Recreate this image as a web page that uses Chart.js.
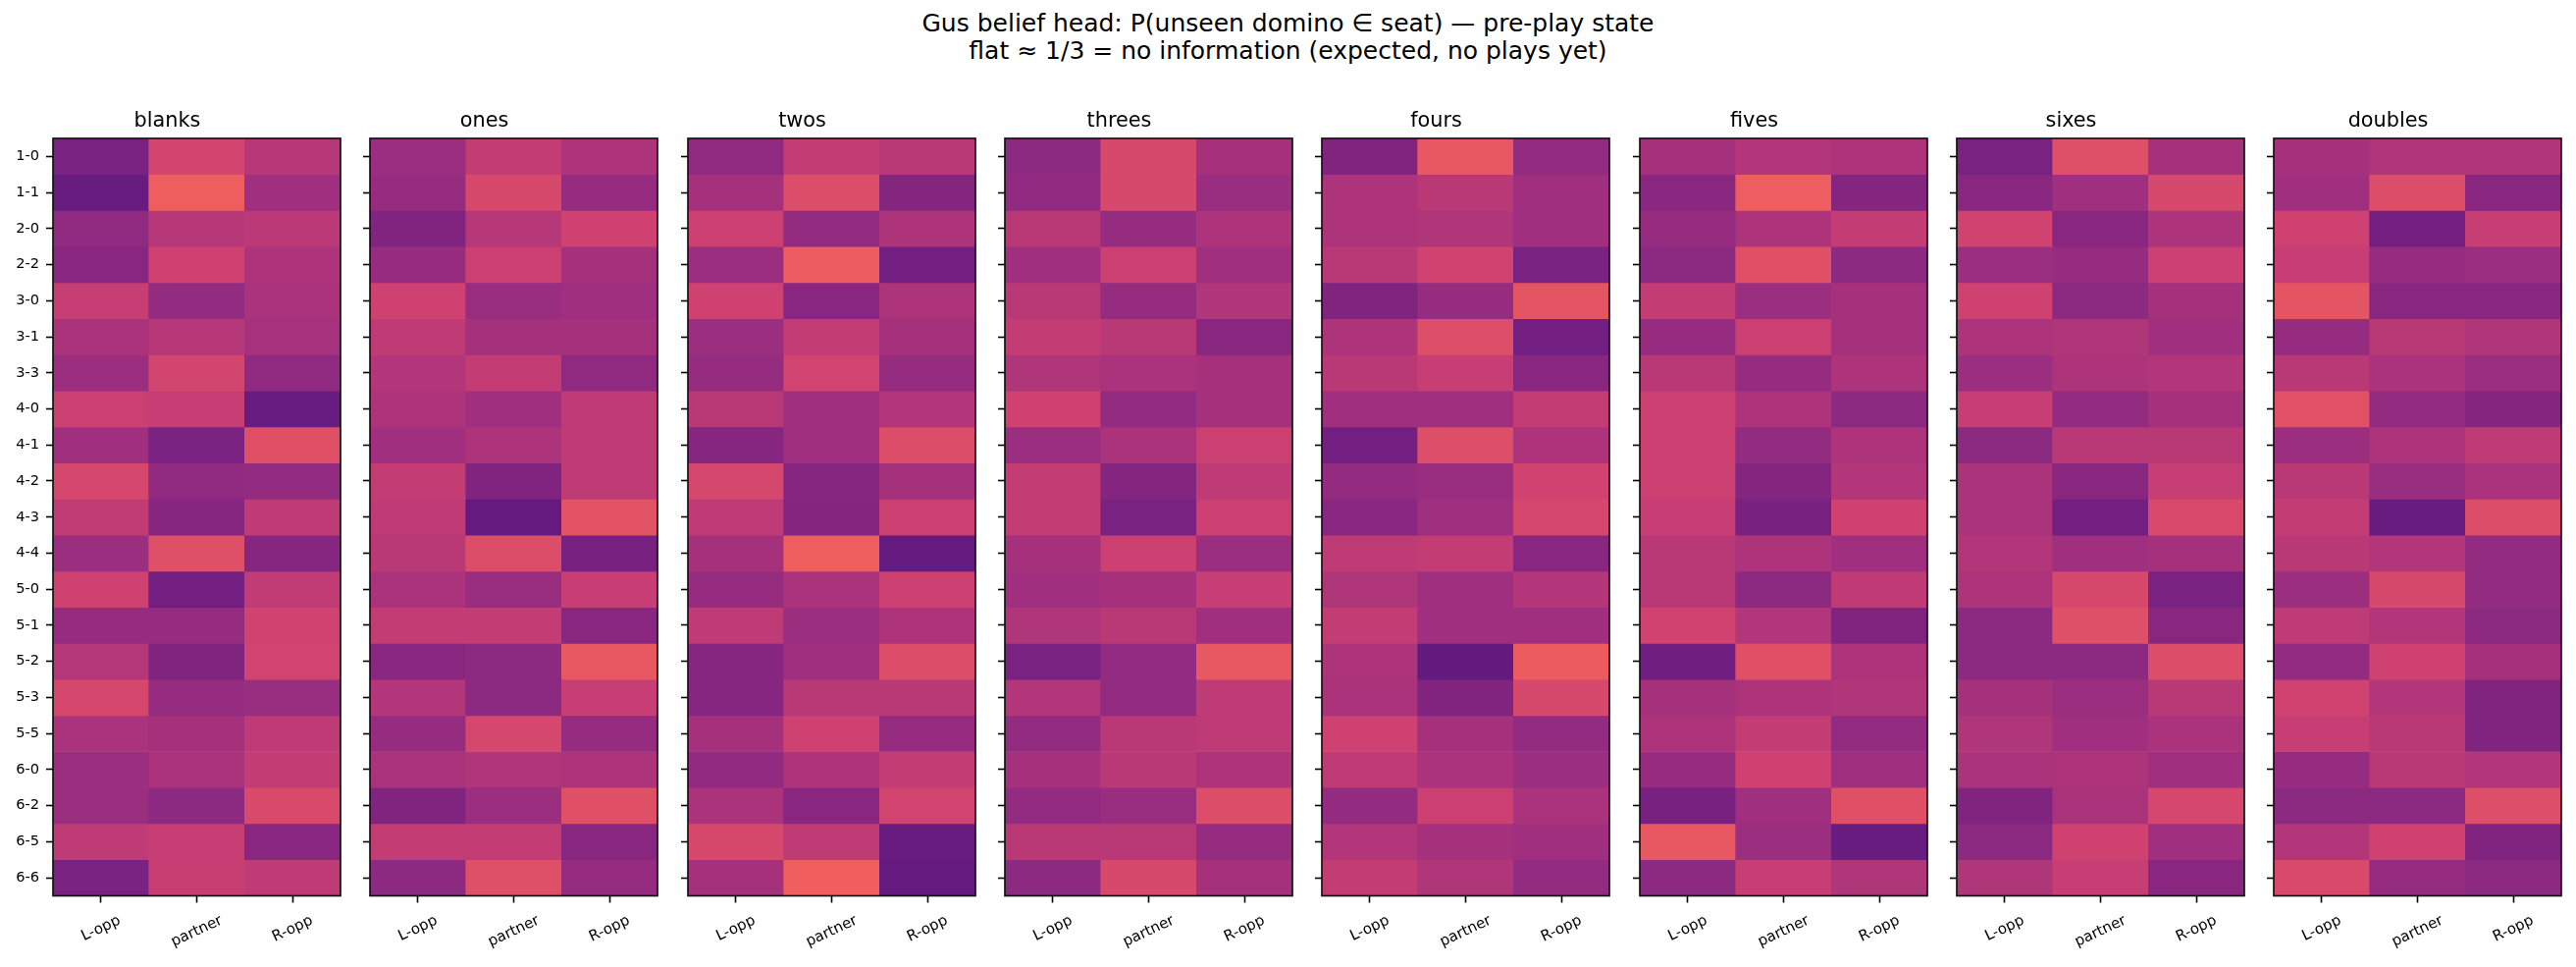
<!DOCTYPE html>
<html>
<head>
<meta charset="utf-8">
<script src="https://cdn.jsdelivr.net/npm/chart.js@4.4.1/dist/chart.umd.min.js"></script>
<style>
  body { margin: 0; background: #fff; width: 2625px; height: 985px; position: relative; overflow: hidden; font-family: "DejaVu Sans", sans-serif; }
  #suptitle { position: absolute; left: 0; top: 10px; width: 2625px; text-align: center; font-size: 25px; line-height: 28px; color: #000; }
  canvas { position: absolute; top: 100px; }
</style>
</head>
<body>
<div id="suptitle">Gus belief head: P(unseen domino ∈ seat) — pre-play state<br>flat ≈ 1/3 = no information (expected, no plays yet)</div>
<script>
const ROWS = ['1-0', '1-1', '2-0', '2-2', '3-0', '3-1', '3-3', '4-0', '4-1', '4-2', '4-3', '4-4',
  '5-0', '5-1', '5-2', '5-3', '5-5', '6-0', '6-2', '6-5', '6-6'];
const SEATS = ['L-opp', 'partner', 'R-opp'];
const TITLES = ['blanks', 'ones', 'twos', 'threes', 'fours', 'fives', 'sixes', 'doubles'];

// P(domino in seat), one row per domino: [L-opp, partner, R-opp]
const BLANKS = [
  [0.288, 0.343, 0.325], [0.278, 0.365, 0.312], [0.302, 0.325, 0.328], [0.298, 0.340, 0.320],
  [0.335, 0.304, 0.318], [0.318, 0.325, 0.316], [0.310, 0.343, 0.302], [0.338, 0.335, 0.278],
  [0.312, 0.288, 0.353], [0.345, 0.302, 0.304], [0.332, 0.296, 0.330], [0.310, 0.352, 0.296],
  [0.340, 0.284, 0.332], [0.306, 0.306, 0.341], [0.324, 0.292, 0.342], [0.345, 0.306, 0.308],
  [0.318, 0.315, 0.330], [0.310, 0.318, 0.333], [0.310, 0.300, 0.348], [0.330, 0.335, 0.298],
  [0.288, 0.336, 0.330]
];
const ONES = [
  [0.310, 0.333, 0.320], [0.306, 0.346, 0.306], [0.292, 0.325, 0.340], [0.306, 0.338, 0.315],
  [0.340, 0.308, 0.312], [0.330, 0.315, 0.315], [0.323, 0.333, 0.302], [0.320, 0.312, 0.330],
  [0.312, 0.320, 0.330], [0.333, 0.292, 0.330], [0.330, 0.275, 0.355], [0.327, 0.350, 0.287],
  [0.318, 0.308, 0.335], [0.333, 0.333, 0.298], [0.298, 0.300, 0.360], [0.323, 0.300, 0.335],
  [0.306, 0.345, 0.306], [0.318, 0.322, 0.320], [0.292, 0.310, 0.353], [0.333, 0.333, 0.298],
  [0.300, 0.352, 0.306]
];
const TWOS = [
  [0.302, 0.333, 0.327], [0.315, 0.350, 0.295], [0.338, 0.304, 0.320], [0.310, 0.363, 0.284],
  [0.340, 0.298, 0.320], [0.310, 0.333, 0.315], [0.306, 0.342, 0.306], [0.327, 0.312, 0.323],
  [0.296, 0.312, 0.350], [0.345, 0.296, 0.315], [0.330, 0.295, 0.338], [0.315, 0.365, 0.275],
  [0.306, 0.318, 0.338], [0.330, 0.310, 0.320], [0.296, 0.312, 0.350], [0.296, 0.327, 0.327],
  [0.315, 0.340, 0.306], [0.303, 0.320, 0.333], [0.318, 0.298, 0.342], [0.346, 0.330, 0.278],
  [0.315, 0.366, 0.275]
];
const THREES = [
  [0.300, 0.346, 0.315], [0.303, 0.346, 0.308], [0.327, 0.306, 0.320], [0.312, 0.338, 0.312],
  [0.327, 0.306, 0.322], [0.333, 0.327, 0.298], [0.322, 0.318, 0.315], [0.340, 0.304, 0.315],
  [0.310, 0.318, 0.338], [0.333, 0.295, 0.330], [0.333, 0.288, 0.338], [0.315, 0.338, 0.310],
  [0.312, 0.315, 0.335], [0.322, 0.327, 0.312], [0.288, 0.304, 0.360], [0.323, 0.304, 0.330],
  [0.304, 0.327, 0.330], [0.315, 0.327, 0.320], [0.304, 0.308, 0.350], [0.327, 0.327, 0.306],
  [0.300, 0.346, 0.315]
];
const FOURS = [
  [0.292, 0.360, 0.304], [0.320, 0.327, 0.312], [0.320, 0.322, 0.312], [0.327, 0.341, 0.288],
  [0.292, 0.306, 0.357], [0.320, 0.351, 0.284], [0.327, 0.335, 0.298], [0.312, 0.312, 0.333],
  [0.284, 0.351, 0.320], [0.304, 0.308, 0.341], [0.298, 0.312, 0.345], [0.330, 0.333, 0.298],
  [0.322, 0.312, 0.323], [0.333, 0.312, 0.312], [0.320, 0.274, 0.362], [0.318, 0.292, 0.346],
  [0.340, 0.315, 0.304], [0.330, 0.318, 0.310], [0.304, 0.338, 0.318], [0.323, 0.315, 0.312],
  [0.333, 0.322, 0.304]
];
const FIVES = [
  [0.315, 0.323, 0.320], [0.298, 0.364, 0.295], [0.306, 0.320, 0.333], [0.300, 0.353, 0.300],
  [0.333, 0.310, 0.315], [0.306, 0.338, 0.315], [0.327, 0.306, 0.320], [0.338, 0.320, 0.300],
  [0.338, 0.304, 0.320], [0.338, 0.295, 0.323], [0.335, 0.287, 0.340], [0.327, 0.320, 0.312],
  [0.327, 0.300, 0.330], [0.341, 0.323, 0.292], [0.282, 0.353, 0.320], [0.315, 0.320, 0.322],
  [0.320, 0.333, 0.304], [0.306, 0.340, 0.312], [0.287, 0.312, 0.353], [0.360, 0.310, 0.278],
  [0.300, 0.335, 0.322]
];
const SIXES = [
  [0.288, 0.352, 0.315], [0.298, 0.312, 0.346], [0.341, 0.298, 0.320], [0.310, 0.306, 0.338],
  [0.340, 0.300, 0.315], [0.320, 0.322, 0.312], [0.310, 0.320, 0.323], [0.335, 0.304, 0.315],
  [0.300, 0.327, 0.327], [0.318, 0.298, 0.335], [0.318, 0.284, 0.348], [0.323, 0.312, 0.315],
  [0.320, 0.346, 0.288], [0.300, 0.352, 0.298], [0.300, 0.300, 0.350], [0.315, 0.310, 0.327],
  [0.322, 0.312, 0.318], [0.318, 0.320, 0.312], [0.292, 0.318, 0.345], [0.300, 0.340, 0.312],
  [0.322, 0.335, 0.298]
];
const DOUBLES = [
  [0.315, 0.322, 0.322], [0.312, 0.350, 0.298], [0.340, 0.284, 0.335], [0.335, 0.306, 0.310],
  [0.357, 0.298, 0.298], [0.306, 0.327, 0.322], [0.327, 0.318, 0.310], [0.354, 0.304, 0.295],
  [0.310, 0.320, 0.330], [0.327, 0.308, 0.318], [0.333, 0.278, 0.350], [0.327, 0.323, 0.304],
  [0.310, 0.346, 0.304], [0.330, 0.323, 0.300], [0.304, 0.340, 0.315], [0.341, 0.323, 0.292],
  [0.335, 0.327, 0.292], [0.306, 0.327, 0.323], [0.300, 0.300, 0.351], [0.323, 0.340, 0.292],
  [0.348, 0.306, 0.300]
];

const PANELS = [BLANKS, ONES, TWOS, THREES, FOURS, FIVES, SIXES, DOUBLES];

// colour scale limits
const VMIN = 0.2;
const VMAX = 0.45;

// magma, sampled at 10 even steps
const MAGMA = ['#000004', '#180f3d', '#440f76', '#721f81', '#9e2f7f', '#cd4071', '#f1605d', '#fd9668', '#feca8d', '#fcfdbf'];

function hexToRgb(h) {
  return [1, 3, 5].map(i => parseInt(h.slice(i, i + 2), 16));
}

function cellColor(v) {
  let t = Math.min(1, Math.max(0, (v - VMIN) / (VMAX - VMIN)));
  let pos = t * (MAGMA.length - 1);
  let i = Math.min(Math.floor(pos), MAGMA.length - 2);
  let f = pos - i;
  let a = hexToRgb(MAGMA[i]), b = hexToRgb(MAGMA[i + 1]);
  let c = a.map((x, k) => Math.round(x + (b[k] - x) * f));
  return `rgb(${c[0]},${c[1]},${c[2]})`;
}

const FONT = 'DejaVu Sans';
const PANEL_LEFT = 54;
const PANEL_STEP = 323.3;
const PANEL_W = 293;
const AXIS_W = 60;
const PAD_RIGHT = 20;

// frame around each heatmap and centred, rotated seat labels (matplotlib style)
const framePlugin = {
  id: 'frame',
  afterDraw(chart) {
    let { ctx, chartArea } = chart;
    let x = chart.scales.x;
    ctx.save();
    ctx.strokeStyle = '#111';
    ctx.lineWidth = 1.67;
    ctx.strokeRect(chartArea.left, chartArea.top, chartArea.right - chartArea.left, chartArea.bottom - chartArea.top);

    let size = 15;
    let a = 25 * Math.PI / 180;
    ctx.font = `${size}px "${FONT}"`;
    ctx.fillStyle = '#000';
    ctx.textAlign = 'center';
    ctx.textBaseline = 'middle';
    SEATS.forEach((s, i) => {
      let w = ctx.measureText(s).width;
      let h = size * 1.17;
      let boxH = w * Math.sin(a) + h * Math.cos(a);
      let cx = x.getPixelForTick(i);
      let cy = chartArea.bottom + 16.6 + boxH / 2;
      ctx.save();
      ctx.translate(cx, cy);
      ctx.rotate(-a);
      ctx.fillText(s, 0, 0);
      ctx.restore();
    });
    ctx.restore();
  }
};

function makePanel(idx) {
  let values = PANELS[idx];
  let canvas = document.createElement('canvas');
  canvas.width = AXIS_W + PANEL_W + PAD_RIGHT;
  canvas.height = 885;
  canvas.style.left = (Math.round(PANEL_LEFT + idx * PANEL_STEP) - AXIS_W) + 'px';
  document.body.appendChild(canvas);

  let datasets = ROWS.map((row, r) => ({
    label: row,
    data: SEATS.map(() => 1),
    backgroundColor: values[r].map(cellColor),
    borderWidth: 0,
    barPercentage: 1,
    categoryPercentage: 1,
  }));

  new Chart(canvas, {
    type: 'bar',
    data: { labels: SEATS, datasets },
    plugins: [framePlugin],
    options: {
      responsive: false,
      animation: false,
      layout: { padding: { left: 0, right: PAD_RIGHT, top: 0, bottom: 0 } },
      plugins: {
        legend: { display: false },
        tooltip: { enabled: false },
        title: {
          display: true,
          text: TITLES[idx],
          color: '#000',
          font: { family: FONT, size: 20.8, weight: 'normal', lineHeight: 1.2 },
          padding: { top: 11, bottom: 5 },
        },
      },
      scales: {
        x: {
          type: 'category',
          stacked: true,
          offset: true,
          grid: { offset: false, drawOnChartArea: false, drawTicks: true, tickLength: 7, tickWidth: 1.6, tickColor: '#000' },
          border: { display: false },
          ticks: { display: false },
          afterFit: s => { s.height = 72.5; },
        },
        y: {
          type: 'linear',
          stacked: true,
          reverse: true,
          min: 0,
          max: ROWS.length,
          grid: { drawOnChartArea: false, drawTicks: true, tickLength: 7, tickWidth: 1.6, tickColor: '#000' },
          border: { display: false },
          ticks: {
            display: idx === 0,
            autoSkip: false,
            padding: 7,
            color: '#000',
            font: { family: FONT, size: 14.6 },
            callback: v => ROWS[Math.floor(v)],
          },
          afterBuildTicks: s => { s.ticks = ROWS.map((_, k) => ({ value: k + 0.5 })); },
          afterFit: s => { s.width = AXIS_W; },
        },
      },
    },
  });
}

PANELS.forEach((_, i) => makePanel(i));
</script>
</body>
</html>
